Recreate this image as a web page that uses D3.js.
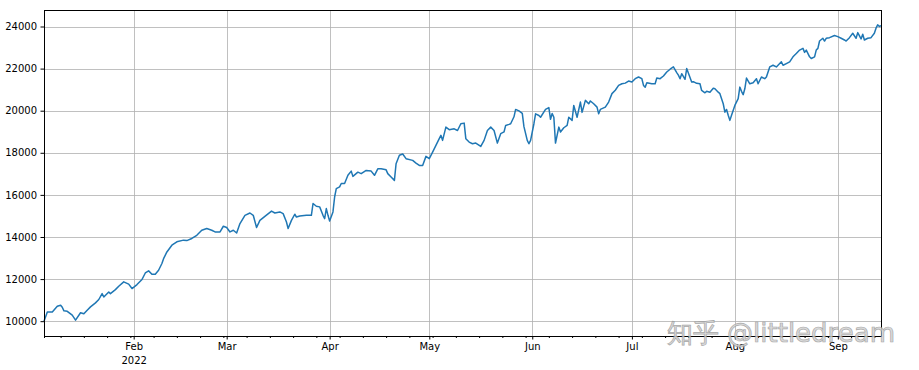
<!DOCTYPE html>
<html>
<head>
<meta charset="utf-8">
<script src="https://cdn.jsdelivr.net/npm/d3@7"></script>
<style>
  html, body { margin: 0; padding: 0; background: #fff; }
  #chart { width: 919px; height: 370px; }
  text { font-family: "DejaVu Sans", sans-serif; }
</style>
</head>
<body>
<div id="chart"></div>
<script>
// day of year 2022 (1 = Jan 1, .5 = noon) and the value
const dayOfYear = [
  5, 6, 7.5, 9, 10, 10.5, 11, 12, 13.5, 14.5, 16, 17, 18, 19, 20.5, 21.5, 22.5, 23, 24.5, 25,
  26.5, 27.5, 29, 30.5, 31.5, 33, 34.5, 35.5, 36.5, 37.5, 38.5, 39.5, 40.5, 41, 42, 43.5, 45, 47, 48, 49.5,
  51, 52.5, 54, 55.5, 56.5, 58, 59, 60, 61, 62, 63, 64, 65.5, 67, 68, 69, 70, 71.5, 73.5, 74.5,
  76, 77, 78, 78.5, 79.5, 80.5, 81, 82, 84, 85.5, 86, 87, 88, 89, 89.5, 90, 90.5, 91, 92, 92.5,
  93, 94, 94.5, 95.5, 96.5, 97.5, 98, 99.5, 100.5, 102, 103.5, 104.5, 105.5, 106.5, 108, 108.5, 109.5, 110.5, 111, 112,
  113, 114, 116, 117, 118, 119, 120, 121, 122, 123, 124, 124.5, 125, 126, 127, 128.5, 129.5, 130.5, 131.5, 132,
  133, 134, 135, 136.5, 137.5, 138.5, 139.5, 140.5, 141.5, 142.5, 143.5, 144, 145, 145.5, 146.5, 147, 148, 149, 149.5, 150.5,
  151, 151.5, 152.5, 153, 154, 154.5, 156, 157, 157.5, 158, 158.5, 159, 160, 160.5, 161.5, 162.5, 163, 164, 164.5, 165.5,
  166.5, 167, 168, 169, 169.5, 170.5, 171.5, 172, 172.5, 174, 175, 176, 177, 178, 179, 180, 181, 182, 183, 184,
  185, 185.5, 186, 186.5, 188, 189, 189.5, 190.5, 191.5, 192.5, 193.5, 194.5, 195.5, 196, 196.5, 197, 198, 198.5, 200, 200.5,
  201.5, 202.5, 203, 204, 204.5, 205.5, 206.5, 207, 208, 208.5, 209.5, 210, 210.5, 211, 211.5, 212, 213, 214, 214.5, 215,
  215.5, 216, 216.5, 217.5, 218.5, 219.5, 220, 221, 222, 222.5, 223.5, 224.5, 225.5, 226.5, 227, 227.5, 228.5, 229.5, 230.5, 231.5,
  232.5, 233.5, 234, 234.5, 235.5, 236, 237, 237.5, 238, 238.5, 239.5, 240, 240.5, 241.5, 243, 244, 245, 246, 246.5, 247.5,
  248.5, 249.5, 250, 251, 251.5, 252, 253, 254, 255, 255.5, 256, 256.5, 257
]

const values = [
  10000, 10440, 10440, 10710, 10760, 10660, 10490, 10470, 10285, 10050, 10400, 10350, 10520, 10680, 10870, 11030, 11310, 11150, 11390, 11310,
  11500, 11660, 11870, 11760, 11550, 11740, 11980, 12290, 12390, 12230, 12230, 12420, 12740, 12970, 13290, 13610, 13770, 13850, 13830, 13930,
  14080, 14320, 14400, 14320, 14240, 14240, 14510, 14450, 14240, 14320, 14190, 14640, 15030, 15140, 15030, 14450, 14790, 14980, 15230, 15140,
  15190, 15110, 14710, 14400, 14790, 15080, 14950, 15000, 15030, 15030, 15590, 15460, 15430, 15030, 14870, 15350, 15030, 14760, 15190, 15900,
  16300, 16380, 16540, 16540, 16930, 17130, 16880, 17080, 17010, 17160, 17130, 16930, 17240, 17240, 17190, 17010, 16850, 16690, 17480, 17880,
  17940, 17720, 17640, 17510, 17400, 17400, 17830, 17720, 18030, 18350, 18670, 18830, 18590, 19220, 19100, 19140, 19060, 19380, 19410, 18670,
  18510, 18430, 18460, 18300, 18590, 19060, 19220, 19060, 18460, 18910, 18990, 19300, 19350, 19380, 19710, 20060, 19990, 19870, 19240, 18590,
  18430, 18590, 19380, 19850, 19770, 19690, 20060, 20150, 19590, 19870, 19690, 18460, 19220, 18990, 19190, 19300, 19690, 19540, 20250, 19690,
  20410, 19920, 20490, 20330, 20460, 20330, 20170, 19850, 20060, 20170, 20410, 20810, 20970, 21200, 21280, 21310, 21410, 21360, 21520, 21600,
  21520, 21200, 21120, 21330, 21280, 21280, 21550, 21520, 21650, 21840, 21970, 22080, 21810, 21690, 21520, 21760, 21490, 22000, 21360, 21380,
  21300, 21280, 20960, 20850, 20920, 20880, 21070, 21040, 20880, 20810, 20330, 19930, 20060, 19780, 19540, 19780, 20250, 20570, 21120, 20920,
  20760, 21040, 21550, 21280, 21330, 21520, 21280, 21600, 21520, 21600, 22080, 22160, 22080, 22240, 22320, 22160, 22240, 22320, 22560, 22720,
  22880, 22960, 22770, 22880, 22560, 22480, 22560, 22880, 22960, 23310, 23440, 23310, 23440, 23470, 23570, 23520, 23440, 23360, 23310, 23470,
  23680, 23440, 23710, 23410, 23630, 23360, 23440, 23470, 23680, 23920, 24080, 24000, 24040
]

const monthTicks = ['2022-02-01', '2022-03-01', '2022-04-01', '2022-05-01', '2022-06-01', '2022-07-01', '2022-08-01', '2022-09-01']
const monthLabels = ['Feb', 'Mar', 'Apr', 'May', 'Jun', 'Jul', 'Aug', 'Sep']
const yearLabel = '2022'
const yTicks = [10000, 12000, 14000, 16000, 18000, 20000, 22000, 24000]
const watermark = '知乎 @littledream'

const parseDay = d3.timeParse('%Y-%m-%d')
const fromDayOfYear = d => d3.timeHour.offset(new Date(2022, 0, 1), (d - 1) * 24)

class LineChart {
  svg = null
  plot = null
  x = null
  y = null

  constructor (el = '#chart') {
    this.width = 919
    this.height = 370
    this.margin = { top: 10, right: 38, bottom: 34, left: 44 }
    this.svg = d3.select(el).append('svg')
      .attr('width', this.width)
      .attr('height', this.height)
  }

  setupScales (points) {
    const m = this.margin
    const lo = d3.min(points, p => p.value)
    const hi = d3.max(points, p => p.value)
    const pad = (hi - lo) * 0.05
    this.x = d3.scaleTime()
      .domain(d3.extent(points, p => p.date))
      .range([m.left, this.width - m.right])
    this.y = d3.scaleLinear()
      .domain([lo - pad, hi + pad])
      .range([this.height - m.bottom, m.top])
  }

  drawGrid () {
    const [x0, x1] = this.x.range()
    const [y0, y1] = this.y.range()
    const grid = this.svg.append('g').attr('class', 'grid')
      .attr('stroke', '#b0b0b0').attr('stroke-width', 0.8)
    grid.selectAll('.gx').data(monthTicks.map(parseDay))
      .enter().append('line')
      .attr('x1', d => Math.round(this.x(d)) + 0.5).attr('x2', d => Math.round(this.x(d)) + 0.5)
      .attr('y1', y0).attr('y2', y1)
    grid.selectAll('.gy').data(yTicks)
      .enter().append('line')
      .attr('y1', d => Math.round(this.y(d)) + 0.5).attr('y2', d => Math.round(this.y(d)) + 0.5)
      .attr('x1', x0).attr('x2', x1)
  }

  drawAxes () {
    const [x0, x1] = this.x.range()
    const [y0, y1] = this.y.range()

    const yAxis = d3.axisLeft(this.y)
      .tickValues(yTicks)
      .tickSize(3.5)
      .tickPadding(3.5)
      .tickFormat(d3.format('d'))
    this.svg.append('g')
      .attr('transform', `translate(${x0},0)`)
      .call(yAxis)
      .call(g => g.select('.domain').remove())
      .call(g => g.selectAll('text').attr('font-size', 10).attr('fill', '#000'))

    // weekly minor ticks (Mondays) plus the first day
    const [d0, d1] = this.x.domain()
    const minor = [d0].concat(d3.timeMonday.range(d0, d1))
    const minorAxis = d3.axisBottom(this.x)
      .tickValues(minor)
      .tickSize(2)
      .tickFormat('')
    this.svg.append('g')
      .attr('transform', `translate(0,${y0})`)
      .call(minorAxis)
      .call(g => g.select('.domain').remove())

    const xAxis = d3.axisBottom(this.x)
      .tickValues(monthTicks.map(parseDay))
      .tickSize(3.5)
      .tickPadding(3.5)
      .tickFormat((d, i) => monthLabels[i])
    const xg = this.svg.append('g')
      .attr('transform', `translate(0,${y0})`)
      .call(xAxis)
      .call(g => g.select('.domain').remove())
      .call(g => g.selectAll('text').attr('font-size', 10).attr('fill', '#000'))
    xg.selectAll('.tick')
      .filter((d, i) => i === 0)
      .append('text')
      .attr('y', 20.5)
      .attr('dy', '0.71em')
      .attr('fill', '#000')
      .attr('font-size', 10)
      .text(yearLabel)

    // frame
    this.svg.append('rect')
      .attr('x', x0 + 0.5).attr('y', y1 + 0.5)
      .attr('width', x1 - x0).attr('height', y0 - y1)
      .attr('fill', 'none')
      .attr('stroke', '#000')
      .attr('stroke-width', 1)
  }

  drawLine (points) {
    const line = d3.line()
      .x(p => this.x(p.date))
      .y(p => this.y(p.value))
    this.svg.append('path')
      .datum(points)
      .attr('fill', 'none')
      .attr('stroke', '#1f77b4')
      .attr('stroke-width', 1.5)
      .attr('stroke-linejoin', 'round')
      .attr('d', line)
  }

  drawWatermark () {
    this.svg.append('text')
      .attr('x', 895)
      .attr('y', 342)
      .attr('text-anchor', 'end')
      .attr('font-family', '"Noto Sans CJK SC", "Noto Sans", sans-serif')
      .attr('font-size', 26)
      .attr('fill', '#d4d4d4')
      .attr('stroke', '#9a9a9a')
      .attr('stroke-width', 0.7)
      .attr('opacity', 0.85)
      .text(watermark)
  }

  render () {
    const points = dayOfYear.map((d, i) => ({ date: fromDayOfYear(d), value: values[i] }))
    this.setupScales(points)
    this.drawGrid()
    this.drawLine(points)
    this.drawAxes()
    this.drawWatermark()
  }
}

new LineChart('#chart').render()
</script>
</body>
</html>
